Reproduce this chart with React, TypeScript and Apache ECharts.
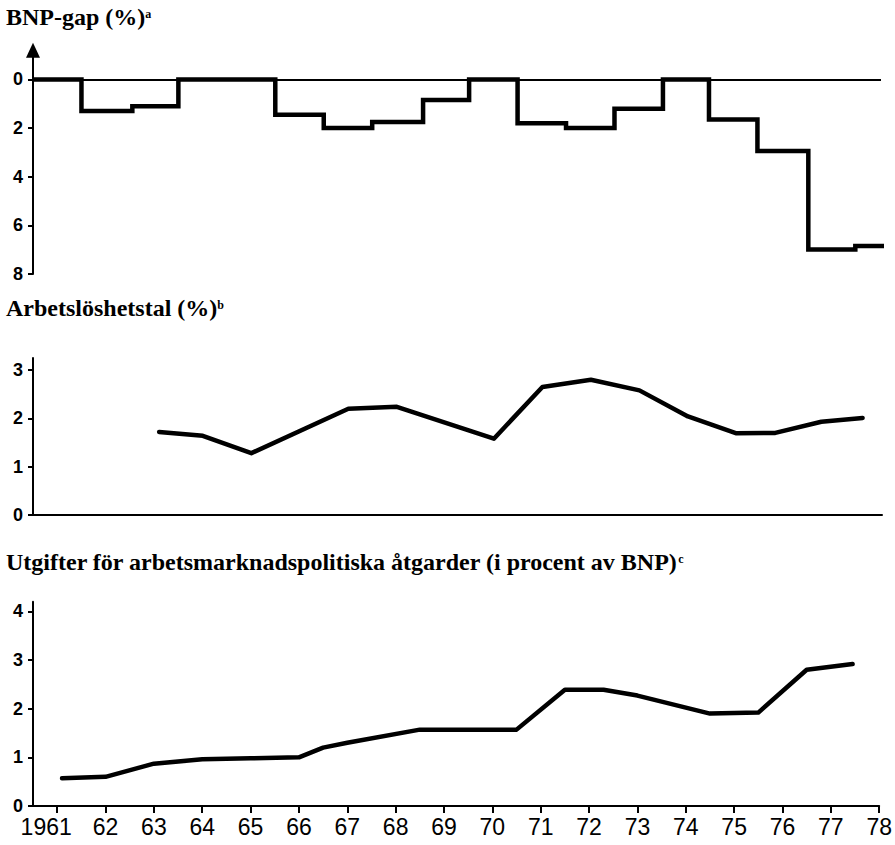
import React, { useEffect, useRef } from "react";
import * as echarts from "echarts";

// Panel 1: BNP-gap (%), step periods (start of each period) and values
const gapStarts = [1960.5, 1961.5, 1962.55, 1963.5, 1965.5, 1966.5, 1967.5, 1968.55, 1969.5, 1970.5, 1971.5, 1972.5, 1973.5, 1974.45, 1975.45, 1976.5, 1977.47, 1978.2];
const gapValues = [0, 1.3, 1.1, 0, 1.45, 2.0, 1.75, 0.84, 0, 1.8, 2.0, 1.2, 0, 1.65, 2.94, 6.99, 6.85, 6.85];

// Panel 2: Arbetslöshetstal (%)
const unYears = [1963.1, 1964, 1965, 1967, 1968, 1970, 1971, 1972, 1973, 1974, 1975, 1975.8, 1976.75, 1977.6];
const unValues = [1.72, 1.64, 1.28, 2.2, 2.24, 1.58, 2.65, 2.8, 2.58, 2.04, 1.69, 1.7, 1.93, 2.01];

// Panel 3: Utgifter för arbetsmarknadspolitiska åtgarder (% av BNP)
const expYears = [1961.1, 1962, 1963, 1964, 1965, 1966, 1966.5, 1967, 1968.5, 1970.5, 1971.5, 1972.3, 1973, 1974.5, 1975.5, 1976.5, 1977.45];
const expValues = [0.57, 0.6, 0.87, 0.96, 0.98, 1.0, 1.2, 1.3, 1.57, 1.57, 2.39, 2.39, 2.27, 1.9, 1.92, 2.8, 2.92];

const yearTicks = [1961, 1962, 1963, 1964, 1965, 1966, 1967, 1968, 1969, 1970, 1971, 1972, 1973, 1974, 1975, 1976, 1977, 1978];
const yearLabels = ["1961", "62", "63", "64", "65", "66", "67", "68", "69", "70", "71", "72", "73", "74", "75", "76", "77", "78"];
const gapTicks = [0, 2, 4, 6, 8];
const unTicks = [0, 1, 2, 3];
const expTicks = [0, 1, 2, 3, 4];

const titles = ["BNP-gap (%)", "Arbetslöshetstal (%)", "Utgifter för arbetsmarknadspolitiska åtgarder (i procent av BNP)"];
const notes = ["a", "b", "c"];

const SERIF = "'Liberation Serif', 'Times New Roman', serif";
const SANS = "'Liberation Sans', Arial, sans-serif";

export default function App() {
  const ref = useRef<HTMLDivElement>(null);
  useEffect(() => {
    if (!ref.current) return;
    const chart = echarts.init(ref.current, undefined, { renderer: "svg" });
    const titleTops = [5, 296, 550];
    const yLabel = { fontFamily: SANS, fontSize: 18, fontWeight: "bold" as const, color: "#000", margin: 10 };
    const axisLine = { show: true, lineStyle: { color: "#000", width: 2 } };
    const yTick = { show: true, length: 5, lineStyle: { color: "#000", width: 2 } };
    const lineSeries = {
      type: "line" as const,
      showSymbol: false,
      symbol: "none",
      lineStyle: { color: "#000", width: 4.5, join: "round", cap: "round" },
      silent: true,
    };
    chart.setOption({
      animation: false,
      backgroundColor: "#fff",
      title: titles.map((t, i) => ({
        text: `{m|${t}}{s|${notes[i]}}`,
        left: 6,
        top: titleTops[i],
        padding: 0,
        textStyle: {
          rich: {
            m: { fontFamily: SERIF, fontSize: 24, fontWeight: "bold", color: "#000" },
            s: { fontFamily: SERIF, fontSize: 12, fontWeight: "bold", color: "#000", verticalAlign: "top", padding: [3, 0, 0, 0] },
          },
        },
      })),
      grid: [
        { left: 33, right: 14, top: 50.3, height: 223.7 },
        { left: 33, right: 13, top: 358, height: 157 },
        { left: 33, right: 14, top: 601.7, height: 204.3 },
      ],
      xAxis: [
        { type: "value", gridIndex: 0, min: 1960.5, max: 1978, show: false },
        {
          type: "value", gridIndex: 1, min: 1960.5, max: 1978,
          axisLine, axisTick: { show: false }, axisLabel: { show: false }, splitLine: { show: false },
        },
        {
          type: "value", gridIndex: 2, min: 1960.5, max: 1978,
          axisLine,
          axisTick: { show: true, length: 7, customValues: yearTicks, lineStyle: { color: "#000", width: 2 } },
          axisLabel: {
            customValues: yearTicks,
            formatter: (v: number) => {
              const idx = yearTicks.indexOf(Math.round(v));
              if (idx < 0) return "";
              return idx === 0 ? `{f|${yearLabels[idx]}}` : yearLabels[idx];
            },
            fontFamily: SANS, fontSize: 23, color: "#000", margin: 9,
            rich: {
              f: { fontFamily: SANS, fontSize: 23, color: "#000", padding: [0, 22, 0, 0] },
            },
          },
          splitLine: { show: false },
        },
      ],
      yAxis: [
        {
          type: "value", gridIndex: 0, inverse: true, min: -1.2, max: 8,
          axisLine: { ...axisLine, symbol: ["none", "triangle"], symbolSize: [14, 15] },
          axisTick: { ...yTick, customValues: gapTicks },
          axisLabel: { ...yLabel, customValues: gapTicks },
          splitLine: { show: false },
        },
        {
          type: "value", gridIndex: 1, min: 0, max: 3.25,
          axisLine,
          axisTick: { ...yTick, customValues: unTicks },
          axisLabel: { ...yLabel, customValues: unTicks },
          splitLine: { show: false },
        },
        {
          type: "value", gridIndex: 2, min: 0, max: 4.2,
          axisLine,
          axisTick: { ...yTick, customValues: expTicks },
          axisLabel: { ...yLabel, customValues: expTicks },
          splitLine: { show: false },
        },
      ],
      series: [
        {
          ...lineSeries,
          name: "BNP-gap",
          xAxisIndex: 0, yAxisIndex: 0,
          step: "end",
          clip: false,
          lineStyle: { color: "#000", width: 4.5, join: "miter", cap: "butt" },
          data: gapStarts.map((x, i) => [x, gapValues[i]]),
          markLine: {
            silent: true,
            symbol: "none",
            label: { show: false },
            lineStyle: { color: "#000", width: 1.8, type: "solid" },
            data: [{ yAxis: 0 }],
            z: 1,
          },
          z: 3,
        },
        {
          ...lineSeries,
          name: "Arbetslöshetstal",
          xAxisIndex: 1, yAxisIndex: 1,
          data: unYears.map((x, i) => [x, unValues[i]]),
        },
        {
          ...lineSeries,
          name: "Utgifter",
          xAxisIndex: 2, yAxisIndex: 2,
          data: expYears.map((x, i) => [x, expValues[i]]),
        },
      ],
    });
    return () => chart.dispose();
  }, []);
  return (
    <div
      ref={ref}
      style={{ position: "fixed", left: 0, top: 0, width: 895, height: 845, background: "#fff" }}
    />
  );
}
